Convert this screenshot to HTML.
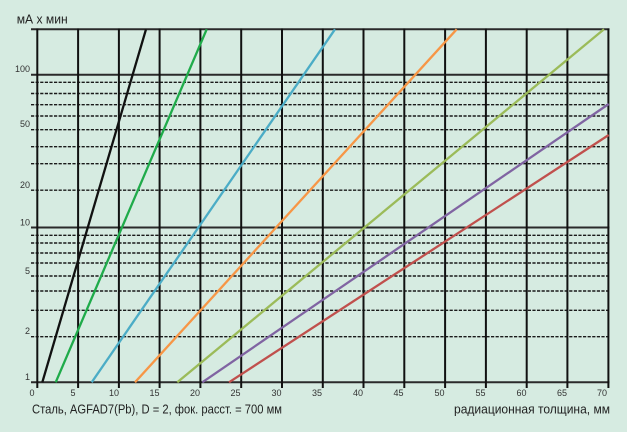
<!DOCTYPE html>
<html><head><meta charset="utf-8"><style>
html,body{margin:0;padding:0;background:#d6ebe1;}
svg{display:block;}
text{font-family:"Liberation Sans",sans-serif;}
</style></head><body>
<svg width="627" height="432" viewBox="0 0 627 432" xmlns="http://www.w3.org/2000/svg">
<rect width="627" height="432" fill="#d6ebe1"/>
<!-- dashed horizontal lines -->
<g stroke="#1a1a1a" stroke-width="1.4" stroke-dasharray="3.2 1.4" fill="none">
<line x1="31" x2="609" y1="82.3" y2="82.3"/>
<line x1="31" x2="609" y1="93.5" y2="93.5"/>
<line x1="31" x2="609" y1="104.7" y2="104.7"/>
<line x1="31" x2="609" y1="116" y2="116"/>
<line x1="31" x2="609" y1="129.7" y2="129.7"/>
<line x1="31" x2="609" y1="146.7" y2="146.7"/>
<line x1="31" x2="609" y1="163.7" y2="163.7"/>
<line x1="31" x2="609" y1="190.2" y2="190.2"/>
<line x1="31" x2="609" y1="235.3" y2="235.3"/>
<line x1="31" x2="609" y1="243" y2="243"/>
<line x1="31" x2="609" y1="253" y2="253"/>
<line x1="31" x2="609" y1="263" y2="263"/>
<line x1="31" x2="609" y1="276" y2="276"/>
<line x1="31" x2="609" y1="291" y2="291"/>
<line x1="31" x2="609" y1="310.3" y2="310.3"/>
<line x1="31" x2="609" y1="336.7" y2="336.7"/>
</g>
<!-- solid horizontal lines -->
<g stroke="#2a2a2a" stroke-width="2" fill="none">
<line x1="31" x2="609.5" y1="29.3" y2="29.3"/>
<line x1="31" x2="609.5" y1="74.7" y2="74.7"/>
<line x1="31" x2="609.5" y1="227.5" y2="227.5"/>
<line x1="31" x2="609.5" y1="382.3" y2="382.3"/>
</g>
<!-- vertical lines -->
<g stroke="#111" stroke-width="2" fill="none">
<line x1="37.3" x2="37.3" y1="28.5" y2="388"/>
<line x1="78.1" x2="78.1" y1="28.5" y2="388"/>
<line x1="118.9" x2="118.9" y1="28.5" y2="388"/>
<line x1="159.6" x2="159.6" y1="28.5" y2="388"/>
<line x1="200.4" x2="200.4" y1="28.5" y2="388"/>
<line x1="241.2" x2="241.2" y1="28.5" y2="388"/>
<line x1="282" x2="282" y1="28.5" y2="388"/>
<line x1="322.8" x2="322.8" y1="28.5" y2="388"/>
<line x1="363.5" x2="363.5" y1="28.5" y2="388"/>
<line x1="404.3" x2="404.3" y1="28.5" y2="388"/>
<line x1="445.1" x2="445.1" y1="28.5" y2="388"/>
<line x1="485.9" x2="485.9" y1="28.5" y2="388"/>
<line x1="526.7" x2="526.7" y1="28.5" y2="388"/>
<line x1="567.4" x2="567.4" y1="28.5" y2="388"/>
<line x1="608.4" x2="608.4" y1="28.5" y2="388"/>
</g>
<!-- series -->
<g stroke-width="2.3" fill="none" stroke-linecap="butt">
<line x1="42.3" y1="382.3" x2="146" y2="29.3" stroke="#111"/>
<line x1="55.7" y1="382.3" x2="206.7" y2="29.3" stroke="#1fab4a"/>
<line x1="91.7" y1="382.3" x2="335" y2="29.3" stroke="#4bacc6"/>
<line x1="135" y1="382.3" x2="456.7" y2="29.3" stroke="#f79646"/>
<line x1="177.3" y1="382.3" x2="604" y2="29.3" stroke="#9bbb59"/>
<line x1="202.3" y1="382.3" x2="608.7" y2="104" stroke="#8064a2"/>
<line x1="229" y1="382.3" x2="608.7" y2="135" stroke="#c0504d"/>
</g>
<!-- y labels -->
<g font-size="9" fill="#333" text-anchor="end">
<text x="30" y="72">100</text>
<text x="30" y="127">50</text>
<text x="30" y="188">20</text>
<text x="30" y="225.5">10</text>
<text x="30" y="274">5</text>
<text x="30" y="334">2</text>
<text x="30" y="380">1</text>
</g>
<!-- x labels -->
<g font-size="9" fill="#333" text-anchor="middle">
<text x="32" y="396">0</text>
<text x="73" y="396">5</text>
<text x="114" y="396">10</text>
<text x="154.5" y="396">15</text>
<text x="195" y="396">20</text>
<text x="235.5" y="396">25</text>
<text x="276.5" y="396">30</text>
<text x="317" y="396">35</text>
<text x="358" y="396">40</text>
<text x="398.5" y="396">45</text>
<text x="439.5" y="396">50</text>
<text x="480.5" y="396">55</text>
<text x="521.5" y="396">60</text>
<text x="562" y="396">65</text>
<text x="602" y="396">70</text>
</g>
<text x="16.7" y="23.3" font-size="12.5" fill="#222" textLength="51" lengthAdjust="spacingAndGlyphs">мА х мин</text>
<text x="32" y="413.3" font-size="13" fill="#222" textLength="250" lengthAdjust="spacingAndGlyphs">Сталь, AGFAD7(Pb), D = 2, фок. расст. = 700 мм</text>
<text x="454" y="413.3" font-size="13" fill="#222" textLength="156" lengthAdjust="spacingAndGlyphs">радиационная толщина, мм</text>
</svg>
</body></html>
